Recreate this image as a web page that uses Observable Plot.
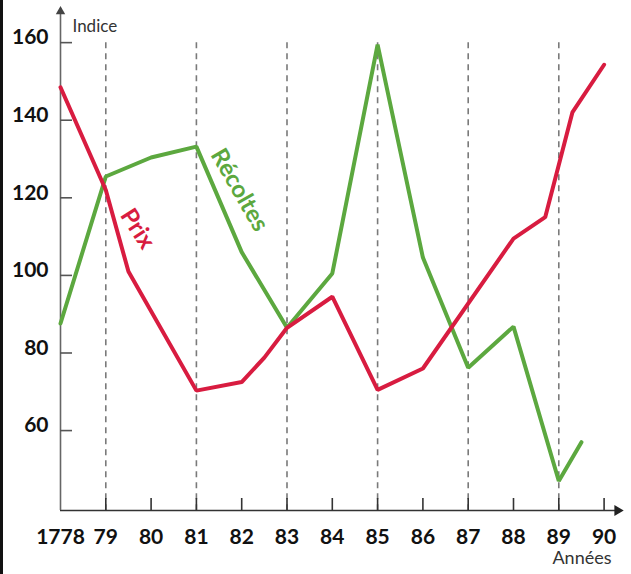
<!DOCTYPE html>
<html>
<head>
<meta charset="utf-8">
<script src="https://cdn.jsdelivr.net/npm/d3@7"></script>
<script src="https://cdn.jsdelivr.net/npm/@observablehq/plot@0.6"></script>
<style>
  html, body { margin: 0; padding: 0; background: #fff; }
  #wrap { position: relative; width: 631px; height: 574px; overflow: hidden; }
  #edge { position: absolute; left: 0; top: 0; width: 3px; height: 574px; background: #111; }
</style>
</head>
<body>
<div id="wrap"><div id="edge"></div></div>
<script>
// ---- data ----
const years = [1778, 1779, 1780, 1781, 1782, 1783, 1784, 1785, 1786, 1787, 1788, 1789, 1790];
const yearLabels = ["1778", "79", "80", "81", "82", "83", "84", "85", "86", "87", "88", "89", "90"];
const dashedYears = [1779, 1781, 1783, 1785, 1787, 1789];
const yTicks = [60, 80, 100, 120, 140, 160];

const prixYears  = [1778, 1779, 1779.5, 1781, 1782, 1782.5, 1783, 1784, 1785, 1786, 1788, 1788.7, 1789.3, 1790];
const prixValues = [148.5, 122, 101, 70.3, 72.5, 78.8, 86.5, 94.5, 70.5, 76, 109.5, 115, 142, 154.3];

const recoltesYears  = [1778, 1779, 1780, 1781, 1782, 1783, 1784, 1785, 1786, 1787, 1788, 1789, 1789.5];
const recoltesValues = [87.6, 125.5, 130.4, 133.2, 106, 86.5, 100.5, 159.5, 104.6, 76.2, 86.8, 47, 57];

const seriesNames  = ["Prix", "Récoltes"];
const seriesColors = ["#d81c40", "#5ca83f"];
const labelYears   = [1779.7, 1781.95];
const labelValues  = [112, 122];
const labelAngles  = [57, 60];

const xMin = 1778, xMax = 1790.34;
const yMin = 39.4, yMax = 168.8;

// ---- build tables ----
const prix = prixYears.map((x, i) => ({x, y: prixValues[i]}));
const recoltes = recoltesYears.map((x, i) => ({x, y: recoltesValues[i]}));
const labels = seriesNames.map((name, i) => ({name, x: labelYears[i], y: labelValues[i], color: seriesColors[i], rotate: labelAngles[i]}));
const tickYears = years.slice(1);

const chart = Plot.plot({
  width: 631,
  height: 574,
  marginLeft: 60,
  marginRight: 12,
  marginTop: 8,
  marginBottom: 64,
  x: {domain: [xMin, xMax]},
  y: {domain: [yMin, yMax]},
  style: {fontFamily: "Lato, 'Open Sans', sans-serif", background: "white", color: "#111"},
  marks: [
    // dashed guide lines
    Plot.ruleX(dashedYears, {x: d => d, y1: d3.max(yTicks), y2: yMin, stroke: "#7a7a7a", strokeWidth: 1.6, strokeDasharray: "6,5"}),
    // x axis line + ticks
    Plot.ruleY([yMin], {x1: xMin, x2: xMax, stroke: "#333", strokeWidth: 1.6}),
    Plot.ruleX(tickYears, {x: d => d, y1: yMin, y2: yMin, insetTop: -12, stroke: "#333", strokeWidth: 1.6}),
    Plot.dot([xMax], {x: d => d, y: yMin, symbol: "triangle", r: 4, rotate: 90, fill: "#222", stroke: "none", dx: -2}),
    // y axis line + ticks
    Plot.ruleX([xMin], {y1: yMin, y2: yMax, stroke: "#666", strokeWidth: 1.6}),
    Plot.ruleY(yTicks, {y: d => d, x1: xMin, x2: xMin, insetRight: -12, stroke: "#555", strokeWidth: 1.6}),
    Plot.dot([yMax], {x: xMin, y: d => d, symbol: "triangle", r: 3.5, fill: "#444", stroke: "none", dy: 3}),
    // tick labels
    Plot.axisX({ticks: years, tickFormat: d => yearLabels[years.indexOf(d)], tickSize: 0, tickPadding: 19, fontSize: 21, fontWeight: "bold", label: null}),
    Plot.axisY({ticks: yTicks, tickSize: 0, tickPadding: 12, fontSize: 21, fontWeight: "bold", dy: -5, label: null}),
    // axis titles
    Plot.text(["Indice"], {frameAnchor: "top-left", text: d => d, dx: 12, dy: 11, fontSize: 17, textAnchor: "start", fill: "#333"}),
    Plot.text(["Années"], {frameAnchor: "bottom-right", text: d => d, dx: -8, dy: 53, fontSize: 18, textAnchor: "end", fill: "#333"}),
    // series
    Plot.line(recoltes, {x: "x", y: "y", stroke: seriesColors[1], strokeWidth: 4, strokeLinejoin: "miter"}),
    Plot.line(prix, {x: "x", y: "y", stroke: seriesColors[0], strokeWidth: 4, strokeLinejoin: "miter"}),
    // series labels
    Plot.text(labels, {x: "x", y: "y", text: "name", fill: "color", rotate: "rotate", fontSize: 24, fontWeight: "bold"})
  ]
});
document.getElementById("wrap").appendChild(chart);
</script>
</body>
</html>
